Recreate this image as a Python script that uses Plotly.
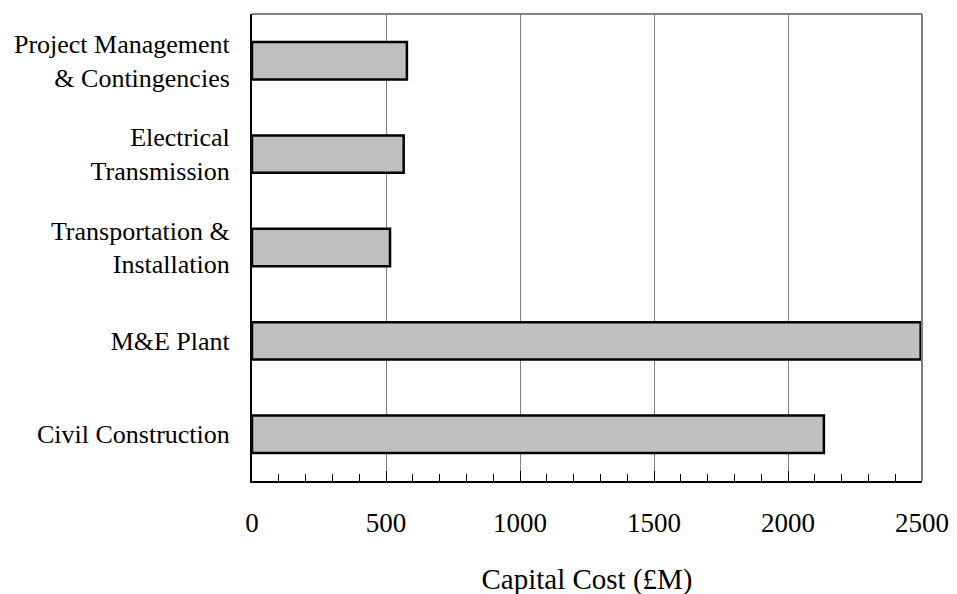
import plotly.graph_objects as go

categories = [
    "Civil Construction",
    "M&E Plant",
    "Transportation &<br>Installation",
    "Electrical<br>Transmission",
    "Project Management<br>& Contingencies",
]
values = [2134, 2495, 515, 566, 578]
x_ticks = [0, 500, 1000, 1500, 2000, 2500]

FONT = "Liberation Serif"

fig = go.Figure()
fig.add_trace(go.Bar(
    y=categories, x=values, orientation="h",
    marker=dict(color="#c0c0c0", line=dict(color="black", width=2.5)),
    width=0.4,
))

fig.update_layout(
    width=957, height=594,
    margin=dict(l=244, r=43, t=6, b=121),
    paper_bgcolor="white", plot_bgcolor="white",
    showlegend=False,
    font=dict(family=FONT, color="black", size=26),
)
fig.update_xaxes(
    range=[0, 2500], tickvals=x_ticks, ticktext=[str(v) for v in x_ticks],
    showgrid=True, gridcolor="#808080", gridwidth=1,
    showline=True, linecolor="black", linewidth=2,
    ticks="inside", ticklen=10, tickcolor="black", tickwidth=1,
    minor=dict(dtick=100, ticks="inside", ticklen=7, tickcolor="black", tickwidth=1, showgrid=False),
    tickfont=dict(family=FONT, size=27),
    ticklabelstandoff=17,
    title=dict(text="Capital Cost (£M)", font=dict(family=FONT, size=29), standoff=31),
    zeroline=False,
)
fig.update_yaxes(
    range=[-0.5, 4.5], showgrid=False,
    showline=True, linecolor="black", linewidth=2,
    ticks="", ticklabelstandoff=15,
    tickfont=dict(family=FONT, size=26),
)
fig.add_shape(type="line", xref="paper", yref="paper", x0=0, x1=1, y0=1, y1=1,
              line=dict(color="#808080", width=2))
fig.add_shape(type="line", xref="paper", yref="paper", x0=1, x1=1, y0=0, y1=1,
              line=dict(color="#808080", width=2))

fig.write_html("out.html")
